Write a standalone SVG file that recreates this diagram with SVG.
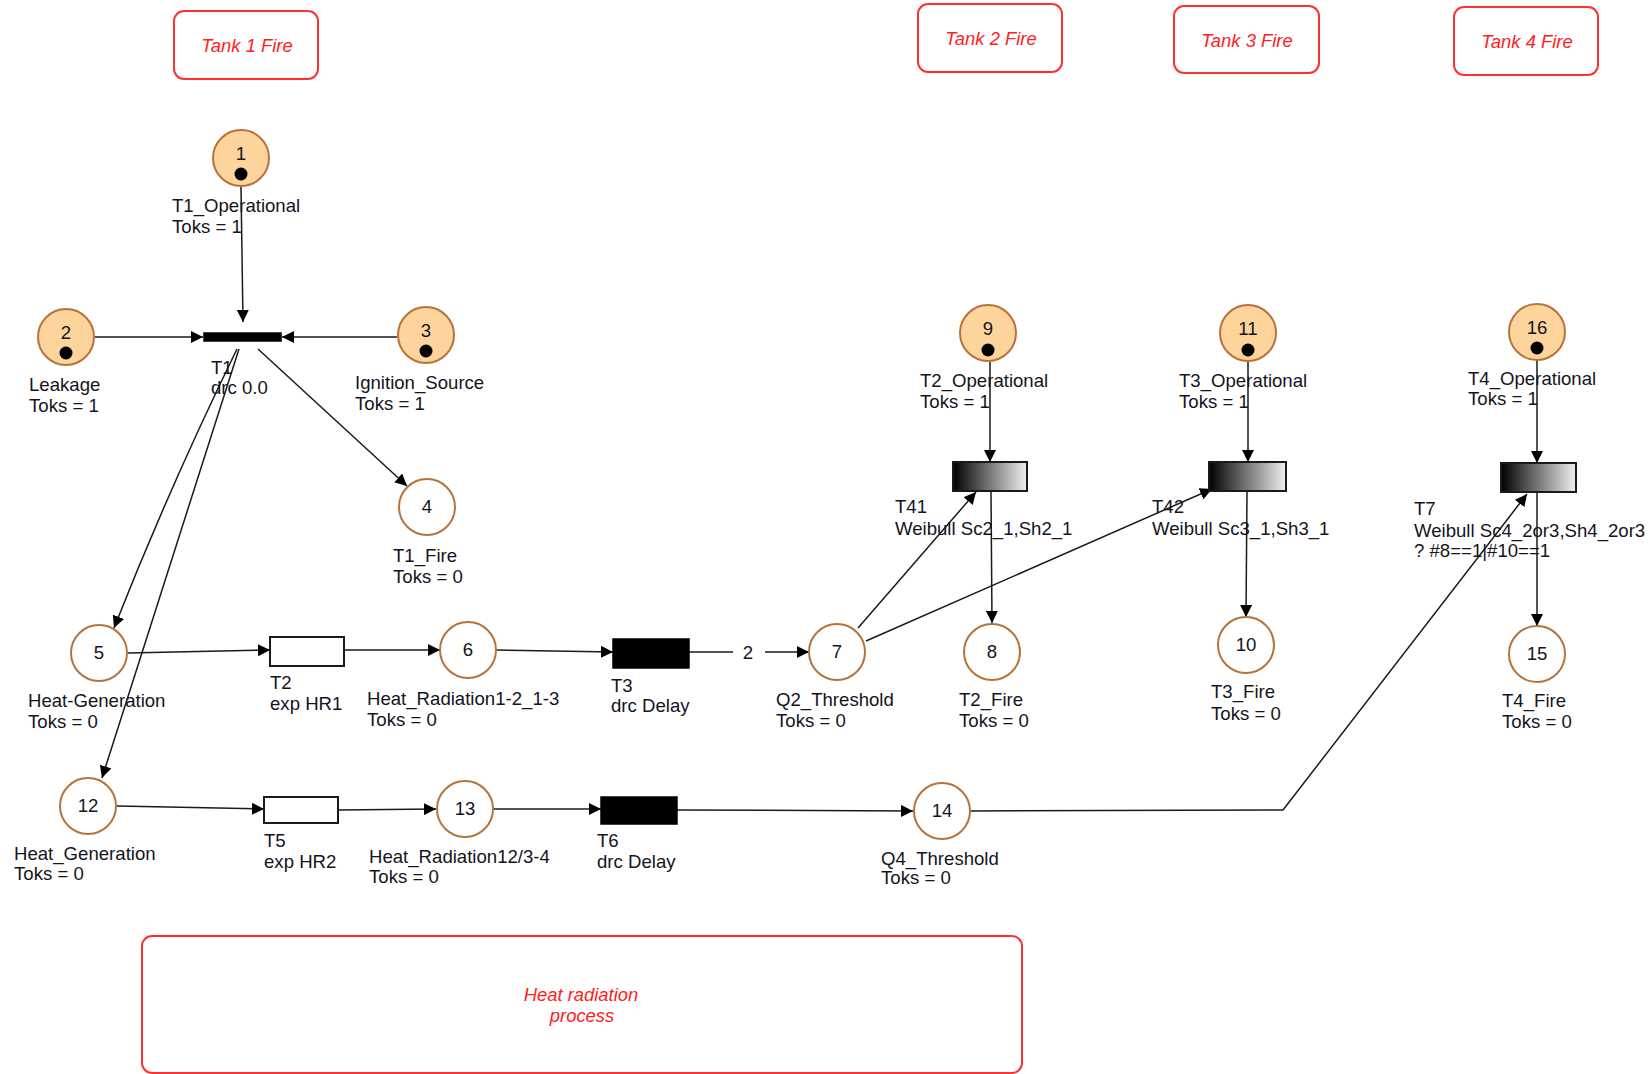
<svg xmlns="http://www.w3.org/2000/svg" width="1652" height="1074" viewBox="0 0 1652 1074">
  <style>
    text { font-family: "Liberation Sans", Arial, sans-serif; font-size: 18.6px; fill: #14141e; }
    .num { text-anchor: middle; }
    .note { fill: #ff2020; font-style: italic; text-anchor: middle; font-size: 18.4px; }
    .notebox { fill: #ffffff; stroke: #ff3030; stroke-width: 2; }
    .place { fill: #ffffff; stroke: #b8733a; stroke-width: 2; }
    .marked { fill: #fcd49c; }
    .token { fill: #000000; }
    .tr-black { fill: #000000; stroke: #000000; stroke-width: 1.5; }
    .tr-white { fill: #ffffff; stroke: #1a1a1a; stroke-width: 2; }
    .tr-grad { fill: url(#weibull); stroke: #1a1a1a; stroke-width: 2; }
    .arc { fill: none; stroke: #1a1a1a; stroke-width: 1.5; }
    .arrow { marker-end: url(#head); }
  </style>
  <defs>
    <linearGradient id="weibull" x1="0" y1="0" x2="1" y2="0">
      <stop offset="0" stop-color="#000000"/>
      <stop offset="1" stop-color="#f0f0f0"/>
    </linearGradient>
    <marker id="head" markerWidth="13" markerHeight="12" refX="12" refY="6" orient="auto" markerUnits="userSpaceOnUse">
      <path d="M0,0 L12,6 L0,12 Z" fill="#000000"/>
    </marker>
  </defs>

  <!-- annotation boxes -->
  <g id="note-tank1">
    <rect class="notebox" x="174" y="11" width="144" height="68" rx="10"/>
    <text class="note" x="247" y="52">Tank 1 Fire</text>
  </g>
  <g id="note-tank2">
    <rect class="notebox" x="918" y="4" width="144" height="68" rx="10"/>
    <text class="note" x="991" y="45">Tank 2 Fire</text>
  </g>
  <g id="note-tank3">
    <rect class="notebox" x="1174" y="6" width="145" height="67" rx="10"/>
    <text class="note" x="1247" y="47">Tank 3 Fire</text>
  </g>
  <g id="note-tank4">
    <rect class="notebox" x="1454" y="7" width="144" height="68" rx="10"/>
    <text class="note" x="1527" y="48">Tank 4 Fire</text>
  </g>
  <g id="note-heat">
    <rect class="notebox" x="142" y="936" width="880" height="137" rx="10"/>
    <text class="note" x="581" y="1001">Heat radiation</text>
    <text class="note" x="582" y="1022">process</text>
  </g>

  <!-- arcs -->
  <g id="connectors">
    <path class="arc arrow" d="M241,187 L243,322"/>
    <path class="arc arrow" d="M95,337 L203,337"/>
    <path class="arc arrow" d="M397,337 L282,337"/>
    <path class="arc arrow" d="M258,349 L407,486"/>
    <path class="arc arrow" d="M237,349 Q170,486 114,628"/>
    <path class="arc arrow" d="M239,349 L102,778"/>
    <path class="arc arrow" d="M128,653 L270,650"/>
    <path class="arc arrow" d="M344,650 L440,650"/>
    <path class="arc arrow" d="M497,650 L613,652"/>
    <path class="arc" d="M689,652 L733,652"/>
    <path class="arc arrow" d="M765,652 L809,652"/>
    <text x="748" y="659" class="num">2</text>
    <path class="arc arrow" d="M858,628 L976,492"/>
    <path class="arc arrow" d="M866,641 L1212,489"/>
    <path class="arc arrow" d="M990,362 L990,462"/>
    <path class="arc arrow" d="M991,491 L992,623"/>
    <path class="arc arrow" d="M1248,362 L1248,462"/>
    <path class="arc arrow" d="M1247,491 L1246,617"/>
    <path class="arc arrow" d="M1537,360 L1537,463"/>
    <path class="arc arrow" d="M1537,492 L1537,626"/>
    <path class="arc arrow" d="M117,806 L264,809"/>
    <path class="arc arrow" d="M338,810 L436,809"/>
    <path class="arc arrow" d="M494,809 L601,809"/>
    <path class="arc arrow" d="M677,810 L913,811"/>
    <path class="arc arrow" d="M971,811 L1283,810 L1527,494"/>
  </g>

  <!-- places -->
  <g id="p1">
    <circle class="place marked" cx="241" cy="158" r="28"/>
    <text class="num" x="241" y="160">1</text>
    <circle class="token" cx="241" cy="174" r="6.5"/>
    <text x="172" y="212">T1_Operational</text>
    <text x="172" y="233">Toks = 1</text>
  </g>
  <g id="p2">
    <circle class="place marked" cx="66" cy="337" r="28"/>
    <text class="num" x="66" y="339">2</text>
    <circle class="token" cx="66" cy="353" r="6.5"/>
    <text x="29" y="391">Leakage</text>
    <text x="29" y="412">Toks = 1</text>
  </g>
  <g id="p3">
    <circle class="place marked" cx="426" cy="335" r="28"/>
    <text class="num" x="426" y="337">3</text>
    <circle class="token" cx="426" cy="351" r="6.5"/>
    <text x="355" y="389">Ignition_Source</text>
    <text x="355" y="410">Toks = 1</text>
  </g>
  <g id="p4">
    <circle class="place" cx="427" cy="507" r="28"/>
    <text class="num" x="427" y="513">4</text>
    <text x="393" y="562">T1_Fire</text>
    <text x="393" y="583">Toks = 0</text>
  </g>
  <g id="p5">
    <circle class="place" cx="99" cy="653" r="28"/>
    <text class="num" x="99" y="659">5</text>
    <text x="28" y="707">Heat-Generation</text>
    <text x="28" y="728">Toks = 0</text>
  </g>
  <g id="p6">
    <circle class="place" cx="468" cy="650" r="28"/>
    <text class="num" x="468" y="656">6</text>
    <text x="367" y="705">Heat_Radiation1-2_1-3</text>
    <text x="367" y="726">Toks = 0</text>
  </g>
  <g id="p7">
    <circle class="place" cx="837" cy="652" r="28"/>
    <text class="num" x="837" y="658">7</text>
    <text x="776" y="706">Q2_Threshold</text>
    <text x="776" y="727">Toks = 0</text>
  </g>
  <g id="p8">
    <circle class="place" cx="992" cy="652" r="28"/>
    <text class="num" x="992" y="658">8</text>
    <text x="959" y="706">T2_Fire</text>
    <text x="959" y="727">Toks = 0</text>
  </g>
  <g id="p9">
    <circle class="place marked" cx="988" cy="333" r="28"/>
    <text class="num" x="988" y="335">9</text>
    <circle class="token" cx="988" cy="350" r="6.5"/>
    <text x="920" y="387">T2_Operational</text>
    <text x="920" y="408">Toks = 1</text>
  </g>
  <g id="p10">
    <circle class="place" cx="1246" cy="645" r="28"/>
    <text class="num" x="1246" y="651">10</text>
    <text x="1211" y="698">T3_Fire</text>
    <text x="1211" y="720">Toks = 0</text>
  </g>
  <g id="p11">
    <circle class="place marked" cx="1248" cy="333" r="28"/>
    <text class="num" x="1248" y="335">11</text>
    <circle class="token" cx="1248" cy="350" r="6.5"/>
    <text x="1179" y="387">T3_Operational</text>
    <text x="1179" y="408">Toks = 1</text>
  </g>
  <g id="p12">
    <circle class="place" cx="88" cy="806" r="28"/>
    <text class="num" x="88" y="812">12</text>
    <text x="14" y="860">Heat_Generation</text>
    <text x="14" y="880">Toks = 0</text>
  </g>
  <g id="p13">
    <circle class="place" cx="465" cy="809" r="28"/>
    <text class="num" x="465" y="815">13</text>
    <text x="369" y="863">Heat_Radiation12/3-4</text>
    <text x="369" y="883">Toks = 0</text>
  </g>
  <g id="p14">
    <circle class="place" cx="942" cy="811" r="28"/>
    <text class="num" x="942" y="817">14</text>
    <text x="881" y="865">Q4_Threshold</text>
    <text x="881" y="884">Toks = 0</text>
  </g>
  <g id="p15">
    <circle class="place" cx="1537" cy="654" r="28"/>
    <text class="num" x="1537" y="660">15</text>
    <text x="1502" y="707">T4_Fire</text>
    <text x="1502" y="728">Toks = 0</text>
  </g>
  <g id="p16">
    <circle class="place marked" cx="1537" cy="332" r="28"/>
    <text class="num" x="1537" y="334">16</text>
    <circle class="token" cx="1537" cy="348" r="6.5"/>
    <text x="1468" y="385">T4_Operational</text>
    <text x="1468" y="405">Toks = 1</text>
  </g>

  <!-- transitions -->
  <g id="t1">
    <rect class="tr-black" x="204" y="333" width="77" height="8"/>
    <text x="211" y="374">T1</text>
    <text x="211" y="394">drc 0.0</text>
  </g>
  <g id="t2">
    <rect class="tr-white" x="270" y="637" width="74" height="29"/>
    <text x="270" y="689">T2</text>
    <text x="270" y="710">exp HR1</text>
  </g>
  <g id="t3">
    <rect class="tr-black" x="613" y="639" width="76" height="29"/>
    <text x="611" y="692">T3</text>
    <text x="611" y="712">drc Delay</text>
  </g>
  <g id="t5">
    <rect class="tr-white" x="264" y="797" width="74" height="26"/>
    <text x="264" y="847">T5</text>
    <text x="264" y="868">exp HR2</text>
  </g>
  <g id="t6">
    <rect class="tr-black" x="601" y="797" width="76" height="27"/>
    <text x="597" y="847">T6</text>
    <text x="597" y="868">drc Delay</text>
  </g>
  <g id="t41">
    <rect class="tr-grad" x="953" y="462" width="74" height="29"/>
    <text x="895" y="513">T41</text>
    <text x="895" y="535">Weibull Sc2_1,Sh2_1</text>
  </g>
  <g id="t42">
    <rect class="tr-grad" x="1209" y="462" width="77" height="29"/>
    <text x="1152" y="513">T42</text>
    <text x="1152" y="535">Weibull Sc3_1,Sh3_1</text>
  </g>
  <g id="t7">
    <rect class="tr-grad" x="1501" y="463" width="75" height="29"/>
    <text x="1414" y="515">T7</text>
    <text x="1414" y="537">Weibull Sc4_2or3,Sh4_2or3</text>
    <text x="1414" y="557">? #8==1|#10==1</text>
  </g>
</svg>
